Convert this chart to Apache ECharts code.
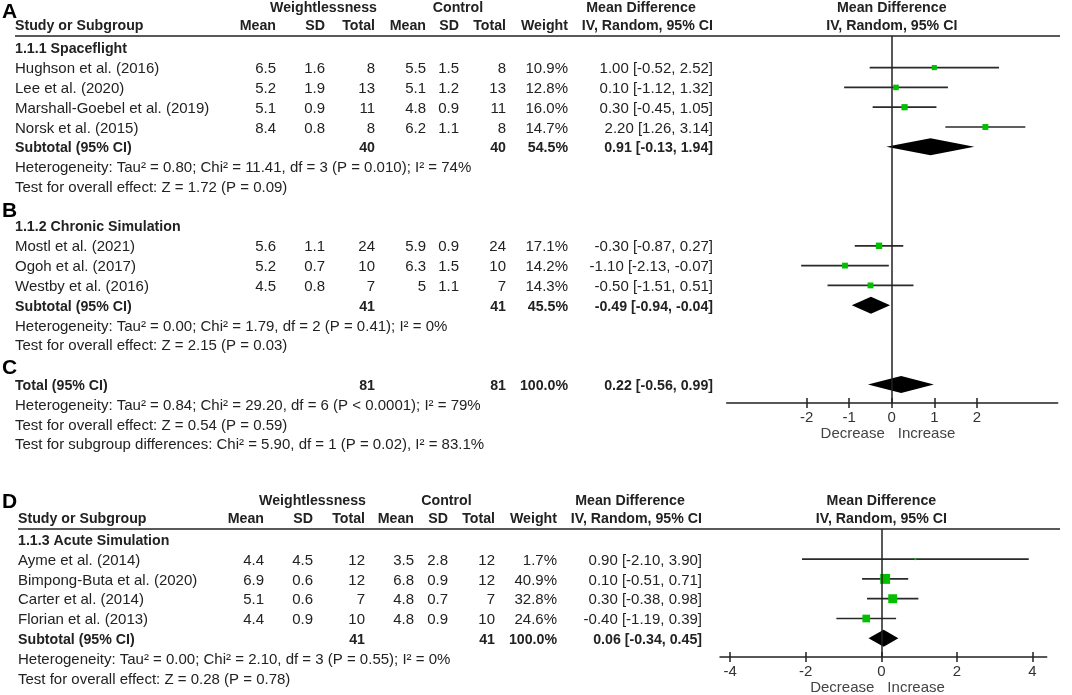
<!DOCTYPE html>
<html lang="en">
<head>
<meta charset="UTF-8">
<title>Forest plot - weightlessness vs control</title>
<script src="https://cdn.jsdelivr.net/npm/echarts@6/dist/echarts.min.js"></script>
<style>
  html, body { margin: 0; padding: 0; background: #fff; }
  #chart { width: 1072px; height: 695px; }
</style>
</head>
<body>
<div id="chart"></div>
<script>
// ---- data ----
// 1.1.1 Spaceflight
const spaceStudy  = ['Hughson et al. (2016)', 'Lee et al. (2020)', 'Marshall-Goebel et al. (2019)', 'Norsk et al. (2015)'];
const spaceWMean  = [6.5, 5.2, 5.1, 8.4];
const spaceWSD    = [1.6, 1.9, 0.9, 0.8];
const spaceWN     = [8, 13, 11, 8];
const spaceCMean  = [5.5, 5.1, 4.8, 6.2];
const spaceCSD    = [1.5, 1.2, 0.9, 1.1];
const spaceCN     = [8, 13, 11, 8];
const spaceWeight = [10.9, 12.8, 16.0, 14.7];
const spaceMD     = [1.00, 0.10, 0.30, 2.20];
const spaceLo     = [-0.52, -1.12, -0.45, 1.26];
const spaceHi     = [2.52, 1.32, 1.05, 3.14];
const spaceSub    = [40, 40, 54.5, 0.91, -0.13, 1.94];   // nW, nC, weight, md, lo, hi
const spaceNotes  = ['Heterogeneity: Tau² = 0.80; Chi² = 11.41, df = 3 (P = 0.010); I² = 74%',
                     'Test for overall effect: Z = 1.72 (P = 0.09)'];

// 1.1.2 Chronic Simulation
const chronStudy  = ['Mostl et al. (2021)', 'Ogoh et al. (2017)', 'Westby et al. (2016)'];
const chronWMean  = [5.6, 5.2, 4.5];
const chronWSD    = [1.1, 0.7, 0.8];
const chronWN     = [24, 10, 7];
const chronCMean  = [5.9, 6.3, 5];
const chronCSD    = [0.9, 1.5, 1.1];
const chronCN     = [24, 10, 7];
const chronWeight = [17.1, 14.2, 14.3];
const chronMD     = [-0.30, -1.10, -0.50];
const chronLo     = [-0.87, -2.13, -1.51];
const chronHi     = [0.27, -0.07, 0.51];
const chronSub    = [41, 41, 45.5, -0.49, -0.94, -0.04];
const chronNotes  = ['Heterogeneity: Tau² = 0.00; Chi² = 1.79, df = 2 (P = 0.41); I² = 0%',
                     'Test for overall effect: Z = 2.15 (P = 0.03)'];

// Total of A + B
const totalSub    = [81, 81, 100.0, 0.22, -0.56, 0.99];
const totalNotes  = ['Heterogeneity: Tau² = 0.84; Chi² = 29.20, df = 6 (P < 0.0001); I² = 79%',
                     'Test for overall effect: Z = 0.54 (P = 0.59)',
                     'Test for subgroup differences: Chi² = 5.90, df = 1 (P = 0.02), I² = 83.1%'];

// 1.1.3 Acute Simulation
const acuteStudy  = ['Ayme et al. (2014)', 'Bimpong-Buta et al. (2020)', 'Carter et al. (2014)', 'Florian et al. (2013)'];
const acuteWMean  = [4.4, 6.9, 5.1, 4.4];
const acuteWSD    = [4.5, 0.6, 0.6, 0.9];
const acuteWN     = [12, 12, 7, 10];
const acuteCMean  = [3.5, 6.8, 4.8, 4.8];
const acuteCSD    = [2.8, 0.9, 0.7, 0.9];
const acuteCN     = [12, 12, 7, 10];
const acuteWeight = [1.7, 40.9, 32.8, 24.6];
const acuteMD     = [0.90, 0.10, 0.30, -0.40];
const acuteLo     = [-2.10, -0.51, -0.38, -1.19];
const acuteHi     = [3.90, 0.71, 0.98, 0.39];
const acuteSub    = [41, 41, 100.0, 0.06, -0.34, 0.45];
const acuteNotes  = ['Heterogeneity: Tau² = 0.00; Chi² = 2.10, df = 3 (P = 0.55); I² = 0%',
                     'Test for overall effect: Z = 0.28 (P = 0.78)'];

const ticksTop = [-2, -1, 0, 1, 2];
const ticksBot = [-4, -2, 0, 2, 4];

// ---- layout ----
const FONT = '"Liberation Sans", Arial, sans-serif';
const INK = '#222';
const REG = 15, BOLD = 14.2;
const lineTop = 36, lineBot = 529;
const colsTop = { study: 15, wMean: 276, wSD: 325, wN: 375, cMean: 426, cSD: 459, cN: 506, weight: 568, md: 713 };
const colsBot = { study: 18, wMean: 264, wSD: 313, wN: 365, cMean: 414, cSD: 448, cN: 495, weight: 557, md: 702 };

// build the row list for each panel
function addGroup(rows, start, title, g) {
  let r = start;
  if (title) rows.push({ kind: 'group', r: r++, text: title });
  (g.study || []).forEach((s, i) => {
    rows.push({ kind: 'study', r: r++, study: s,
      wMean: g.wMean[i], wSD: g.wSD[i], wN: g.wN[i],
      cMean: g.cMean[i], cSD: g.cSD[i], cN: g.cN[i],
      weight: g.weight[i], md: g.md[i], lo: g.lo[i], hi: g.hi[i] });
  });
  const s = g.sub;
  rows.push({ kind: 'sub', r: r++, study: g.subLabel, wN: s[0], cN: s[1], weight: s[2], md: s[3], lo: s[4], hi: s[5] });
  g.notes.forEach(n => rows.push({ kind: 'note', r: r++, text: n }));
  return r;
}

const rowsTop = [];
let cur = addGroup(rowsTop, 1, '1.1.1 Spaceflight', {
  study: spaceStudy, wMean: spaceWMean, wSD: spaceWSD, wN: spaceWN, cMean: spaceCMean, cSD: spaceCSD, cN: spaceCN,
  weight: spaceWeight, md: spaceMD, lo: spaceLo, hi: spaceHi, sub: spaceSub, subLabel: 'Subtotal (95% CI)', notes: spaceNotes });
cur = addGroup(rowsTop, cur + 1, '1.1.2 Chronic Simulation', {
  study: chronStudy, wMean: chronWMean, wSD: chronWSD, wN: chronWN, cMean: chronCMean, cSD: chronCSD, cN: chronCN,
  weight: chronWeight, md: chronMD, lo: chronLo, hi: chronHi, sub: chronSub, subLabel: 'Subtotal (95% CI)', notes: chronNotes });
addGroup(rowsTop, cur + 1, null, { sub: totalSub, subLabel: 'Total (95% CI)', notes: totalNotes });

const rowsBot = [];
addGroup(rowsBot, 1, '1.1.3 Acute Simulation', {
  study: acuteStudy, wMean: acuteWMean, wSD: acuteWSD, wN: acuteWN, cMean: acuteCMean, cSD: acuteCSD, cN: acuteCN,
  weight: acuteWeight, md: acuteMD, lo: acuteLo, hi: acuteHi, sub: acuteSub, subLabel: 'Subtotal (95% CI)', notes: acuteNotes });

function plotSeries(rows, idx) {
  const studies = rows.filter(d => d.kind === 'study');
  const subs = rows.filter(d => d.kind === 'sub');
  return [
    {
      type: 'custom', xAxisIndex: idx * 2, yAxisIndex: idx, z: 2,
      data: studies.map(d => [d.lo, d.hi, d.r]),
      encode: { x: [0, 1], y: 2 },
      renderItem: (params, api) => {
        const a = api.coord([api.value(0), api.value(2)]);
        const b = api.coord([api.value(1), api.value(2)]);
        return { type: 'line', shape: { x1: a[0], y1: a[1], x2: b[0], y2: b[1] },
                 style: { stroke: '#2a2a2a', lineWidth: 1.7 } };
      }
    },
    {
      type: 'scatter', xAxisIndex: idx * 2, yAxisIndex: idx, z: 3,
      symbol: 'rect',
      symbolSize: v => 1.55 * Math.sqrt(v[2]),
      itemStyle: { color: '#00c000', opacity: 1 },
      data: studies.map(d => [d.md, d.r, d.weight]),
      markLine: {
        silent: true, symbol: 'none', label: { show: false }, animation: false,
        lineStyle: { color: INK, width: 1.5, type: 'solid' },
        data: [{ xAxis: 0 }]
      }
    },
    {
      type: 'custom', xAxisIndex: idx * 2, yAxisIndex: idx, z: 4,
      data: subs.map(d => [d.lo, d.md, d.hi, d.r]),
      encode: { x: [0, 1, 2], y: 3 },
      renderItem: (params, api) => {
        const l = api.coord([api.value(0), api.value(3)]);
        const m = api.coord([api.value(1), api.value(3)]);
        const h = api.coord([api.value(2), api.value(3)]);
        const hh = 8.5;
        return { type: 'polygon',
                 shape: { points: [[l[0], l[1]], [m[0], m[1] - hh], [h[0], h[1]], [m[0], m[1] + hh]] },
                 style: { fill: '#000' } };
      }
    }
  ];
}

function xAxes(grid, min, max, ticks) {
  const lbl = { customValues: ticks, margin: 7, color: '#333', fontSize: REG, fontFamily: FONT };
  return [
    { gridIndex: grid, type: 'value', min: min, max: max, position: 'bottom',
      axisLine: { show: true, onZero: false, lineStyle: { color: INK, width: 1.5 } },
      axisTick: { show: true, customValues: ticks, length: 5, lineStyle: { color: INK, width: 1.5 } },
      axisLabel: lbl, splitLine: { show: false } },
    { gridIndex: grid, type: 'value', min: min, max: max, position: 'bottom', offset: 0,
      axisLine: { show: false },
      axisTick: { show: true, inside: true, customValues: ticks, length: 5, lineStyle: { color: INK, width: 1.5 } },
      axisLabel: { show: false }, splitLine: { show: false } }
  ];
}

const chart = echarts.init(document.getElementById('chart'));
chart.setOption({
  animation: false,
  backgroundColor: '#fff',
  grid: [
    { left: 726.7, width: 331, top: lineTop, height: 403 - lineTop, containLabel: false },
    { left: 720, width: 326.7, top: lineBot, height: 657 - lineBot, containLabel: false }
  ],
  xAxis: [].concat(xAxes(0, -3.88, 3.9, ticksTop), xAxes(1, -4.27, 4.375, ticksBot)),
  yAxis: [
    { gridIndex: 0, type: 'value', inverse: true, min: (lineTop - 28) / 19.8, max: (403 - 28) / 19.8, show: false },
    { gridIndex: 1, type: 'value', inverse: true, min: (lineBot - 519.5) / 19.8, max: (657 - 519.5) / 19.8, show: false }
  ],
  series: [].concat(plotSeries(rowsTop, 0), plotSeries(rowsBot, 1))
});

// ---- table text, placed on the rows of the plot scales ----
function T(x, y, s, align, bold, size, color) {
  return { type: 'text', x: x, y: y, silent: true, z: 10,
    style: { text: String(s), fill: color || INK, textAlign: align || 'left', textVerticalAlign: 'middle',
             font: (bold ? 'bold ' : '') + (size || (bold ? BOLD : REG)) + 'px ' + FONT } };
}

function panelText(rows, idx, cols, lineY) {
  const els = [];
  const zx = chart.convertToPixel({ xAxisIndex: idx * 2 }, 0);
  const ax = idx === 0 ? 403 : 657;
  // headers
  const h1 = lineY - 28, h2 = lineY - 10;
  els.push(T((cols.wMean + cols.wN) / 2 - 2, h1, 'Weightlessness', 'center', true));
  els.push(T((cols.cMean + cols.cN) / 2 - 8, h1, 'Control', 'center', true));
  els.push(T(cols.md - 72, h1, 'Mean Difference', 'center', true));
  els.push(T(cols.study, h2, 'Study or Subgroup', 'left', true));
  [['wMean', 'Mean'], ['wSD', 'SD'], ['wN', 'Total'], ['cMean', 'Mean'], ['cSD', 'SD'], ['cN', 'Total'],
   ['weight', 'Weight'], ['md', 'IV, Random, 95% CI']].forEach(p => els.push(T(cols[p[0]], h2, p[1], 'right', true)));
  els.push(T(zx, h1, 'Mean Difference', 'center', true));
  els.push(T(zx, h2, 'IV, Random, 95% CI', 'center', true));
  els.push({ type: 'line', silent: true, shape: { x1: cols.study, y1: lineY, x2: 1060, y2: lineY },
             style: { stroke: INK, lineWidth: 1.5 } });
  // axis captions
  els.push(T(zx - 7, ax + 31, 'Decrease', 'right', false, REG, '#444'));
  els.push(T(zx + 6, ax + 31, 'Increase', 'left', false, REG, '#444'));
  // rows
  rows.forEach(d => {
    const y = chart.convertToPixel({ yAxisIndex: idx }, d.r) + 1.5;
    if (d.kind === 'group') { els.push(T(cols.study, y, d.text, 'left', true)); return; }
    if (d.kind === 'note') { els.push(T(cols.study, y, d.text, 'left', false)); return; }
    const b = d.kind === 'sub';
    els.push(T(cols.study, y, d.study, 'left', b));
    if (!b) {
      els.push(T(cols.wMean, y, d.wMean, 'right'));
      els.push(T(cols.wSD, y, d.wSD, 'right'));
      els.push(T(cols.cMean, y, d.cMean, 'right'));
      els.push(T(cols.cSD, y, d.cSD, 'right'));
    }
    els.push(T(cols.wN, y, d.wN, 'right', b));
    els.push(T(cols.cN, y, d.cN, 'right', b));
    els.push(T(cols.weight, y, d.weight.toFixed(1) + '%', 'right', b));
    els.push(T(cols.md, y, d.md.toFixed(2) + ' [' + d.lo.toFixed(2) + ', ' + d.hi.toFixed(2) + ']', 'right', b));
  });
  return els;
}

const letters = [['A', 12], ['B', 211], ['C', 368], ['D', 502]].map(p => T(2, p[1], p[0], 'left', true, 21, '#000'));

chart.setOption({
  graphic: { elements: [].concat(panelText(rowsTop, 0, colsTop, lineTop), panelText(rowsBot, 1, colsBot, lineBot), letters) }
});
</script>
</body>
</html>
